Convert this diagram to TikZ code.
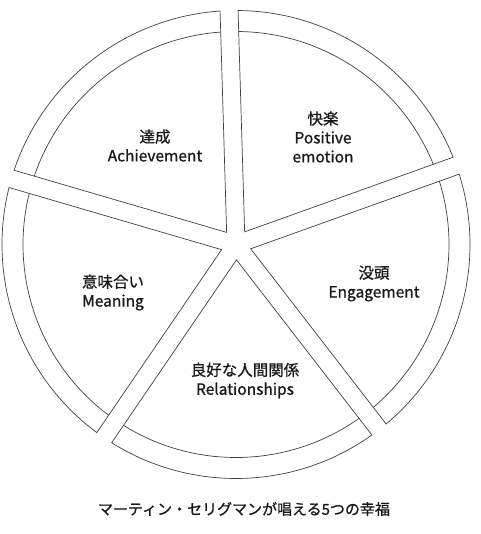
\documentclass[tikz,border=0pt]{standalone}
\usepackage{fontspec}
\setmainfont{Noto Sans CJK JP}
\newfontfamily\medfont{Noto Sans CJK JP}[FakeBold=0.9]
\begin{document}
\begin{tikzpicture}[x=1pt,y=1pt,
  piece/.style={draw=black!75, line width=0.7pt},
  lbl/.style={align=center, font=\medfont\fontsize{15.5}{19}\selectfont, text=black!90, inner sep=0pt},
  captext/.style={font=\medfont\fontsize{15}{18}\selectfont, text=black!90, inner sep=0pt}]
\useasboundingbox (0,0) rectangle (480,-534);
\coordinate (c) at (236,-244.5);
\def\Ro{234}\def\Ri{213}\def\gw{9}
\foreach \g in {91.7,163.7,235.7,307.7,379.7}{
  \pgfmathsetmacro\dR{asin(\gw/\Ro)}
  \pgfmathsetmacro\dr{asin(\gw/\Ri)}
  \pgfmathsetmacro\a{\g+\dR}
  \pgfmathsetmacro\b{\g+72-\dR}
  \pgfmathsetmacro\ai{\g+\dr}
  \pgfmathsetmacro\bi{\g+72-\dr}
  \pgfmathsetmacro\v{\g+36}
  \draw[piece] ([shift={(c)}]\v:15.31pt) -- ([shift={(c)}]\a:\Ro pt)
      arc[start angle=\a, end angle=\b, radius=\Ro pt] -- cycle;
  \draw[piece] ([shift={(c)}]\ai:\Ri pt) arc[start angle=\ai, end angle=\bi, radius=\Ri pt];
}
\node[lbl] (ach) at (155,-145.5) {達成\\Achievement};
\node[lbl] (pos) at (323,-137) {快楽\\Positive\\emotion};
\node[lbl] (eng) at (374,-283.5) {没頭\\Engagement};
\node[lbl] (mea) at (113,-292.5) {意味合い\\Meaning};
\node[lbl] (rel) at (245,-380.5) {良好な人間関係\\Relationships};
\node[captext] (title) at (244,-509) {マーティン・セリグマンが唱える5つの幸福};
\end{tikzpicture}
\end{document}
